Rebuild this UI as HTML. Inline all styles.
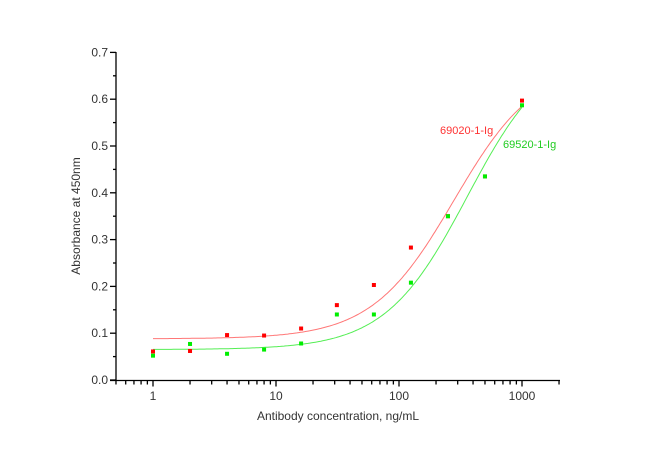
<!DOCTYPE html><html><head><style>body{margin:0;background:#fff}svg text{font-family:"Liberation Sans",Arial,sans-serif;fill:#333}</style></head><body>
<svg id="s" width="650" height="456" xmlns="http://www.w3.org/2000/svg">
<g stroke="#000" stroke-width="1.3" fill="none" id="ax">
<line x1="116" y1="52" x2="116" y2="380.5"/>
<line x1="110" y1="380.5" x2="560" y2="380.5"/>
</g>
<g font-size="12" text-anchor="end" id="yl"></g>
<g font-size="12" text-anchor="middle" id="xl"></g>
<text x="338" y="420" font-size="12" text-anchor="middle">Antibody concentration, ng/mL</text>
<text transform="translate(80,216) rotate(-90)" font-size="12" text-anchor="middle">Absorbance at 450nm</text>
<text x="440" y="134" font-size="11" style="fill:#f33">69020-1-Ig</text>
<text x="503" y="148" font-size="11" style="fill:#2c2">69520-1-Ig</text>
</svg>
<script>
var s=document.getElementById('s'),ns='http://www.w3.org/2000/svg';
function el(t,a,p){var e=document.createElementNS(ns,t);for(var k in a)e.setAttribute(k,a[k]);(p||s).appendChild(e);return e;}
function X(v){return 153+123*Math.log10(v);}function Y(v){return 380-468*v;}
var ax=document.getElementById('ax');
for(var i=0;i<=14;i++){var y=Y(i*0.05);el('line',{x1:116-(i%2?3:6),y1:y,x2:116,y2:y},ax);
if(i%2==0){var t=el('text',{x:108,y:y+4},document.getElementById('yl'));t.textContent=(i*0.05).toFixed(1);}}
for(var d=-1;d<=3;d++)for(var m=1;m<10;m++){var v=m*Math.pow(10,d);if(v<0.5)continue;var x=X(v);if(x>560)continue;
el('line',{x1:x,y1:380.5,x2:x,y2:380.5+(m==1?6:4)},ax);
if(m==1&&d>=0){var t=el('text',{x:x,y:400},document.getElementById('xl'));t.textContent=String(v);}}
function curve(a,dd,c,b,col){var p='';for(var i=0;i<=200;i++){var lx=i*3/200,v=Math.pow(10,lx);var y=dd+(a-dd)/(1+Math.pow(v/c,b));p+=(i?'L':'M')+X(v).toFixed(1)+','+Y(y).toFixed(1);}
el('path',{d:p,stroke:col,fill:'none','stroke-width':1});}
curve(0.088,0.68,280,1.3,'#f77');curve(0.065,0.72,360,1.3,'#5e5');
var xs=[1,2,4,8,16,31.25,62.5,125,250,500,1000];
var r=[0.061,0.062,0.096,0.095,0.11,0.16,0.203,0.283,0.35,0.435,0.597];
var g=[0.052,0.077,0.056,0.065,0.078,0.14,0.14,0.208,0.35,0.435,0.587];
for(var i=0;i<11;i++){el('rect',{x:X(xs[i])-2,y:Y(r[i])-2,width:4,height:4,fill:'#f00'});}
for(var i=0;i<11;i++){el('rect',{x:X(xs[i])-2,y:Y(g[i])-2,width:4,height:4,fill:'#0e0'});}
</script></body></html>
